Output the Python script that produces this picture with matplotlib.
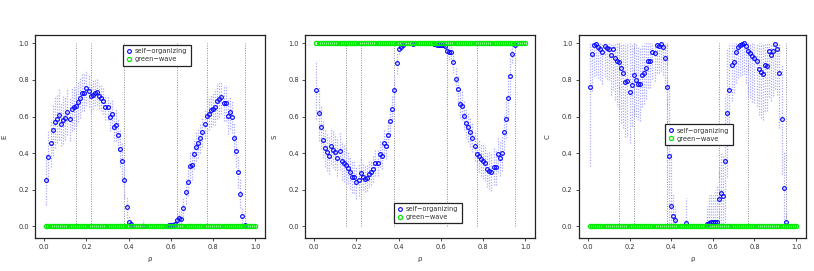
import numpy as np
import matplotlib
matplotlib.use("Agg")
import matplotlib.pyplot as plt

# rho values where self-organizing points are visible
rho_so = [round(0.01 * i, 2) for i in range(1, 43)] + [0.47] + [round(0.01 * i, 2) for i in range(57, 96)]
# green-wave rho values
rho_gw = [round(0.01 * i, 2) for i in range(1, 101)]

E_mean = [0.255, 0.38, 0.453, 0.525, 0.57, 0.587, 0.61, 0.56, 0.58, 0.59,
          0.627, 0.585, 0.64, 0.65, 0.66, 0.678, 0.70, 0.73, 0.73, 0.756,
          0.74, 0.71, 0.72, 0.73, 0.733, 0.71, 0.70, 0.685, 0.65, 0.65,
          0.60, 0.613, 0.544, 0.556, 0.50, 0.424, 0.355, 0.255, 0.105, 0.025,
          0.015, 0.005,
          0.004,
          0.005, 0.005, 0.006, 0.006, 0.01, 0.012, 0.036, 0.044, 0.042, 0.10,
          0.19, 0.245, 0.33, 0.336, 0.395, 0.435, 0.456, 0.482, 0.513, 0.56,
          0.604, 0.615, 0.633, 0.642, 0.653, 0.685, 0.696, 0.704, 0.673, 0.673,
          0.602, 0.624, 0.60, 0.482, 0.413, 0.298, 0.178, 0.055, 0.01]
E_sd = [0.14, 0.14, 0.13, 0.14, 0.14, 0.13, 0.14, 0.12, 0.13, 0.12,
        0.13, 0.12, 0.12, 0.12, 0.11, 0.11, 0.11, 0.10, 0.10, 0.10,
        0.09, 0.09, 0.08, 0.07, 0.07, 0.07, 0.07, 0.07, 0.07, 0.07,
        0.08, 0.08, 0.08, 0.09, 0.09, 0.10, 0.10, 0.10, 0.06, 0.03,
        0.02, 0.01,
        0.03,
        0.01, 0.01, 0.01, 0.02, 0.02, 0.03, 0.04, 0.05, 0.05, 0.06,
        0.07, 0.08, 0.08, 0.08, 0.08, 0.08, 0.08, 0.08, 0.08, 0.08,
        0.09, 0.09, 0.09, 0.09, 0.10, 0.10, 0.10, 0.09, 0.10, 0.10,
        0.10, 0.09, 0.09, 0.09, 0.09, 0.09, 0.08, 0.05, 0.01]

S_mean = [0.744, 0.618, 0.545, 0.473, 0.427, 0.405, 0.387, 0.44, 0.42, 0.407,
          0.375, 0.41, 0.356, 0.345, 0.336, 0.32, 0.296, 0.27, 0.27, 0.24,
          0.256, 0.29, 0.27, 0.26, 0.263, 0.287, 0.295, 0.313, 0.345, 0.345,
          0.395, 0.384, 0.455, 0.44, 0.50, 0.576, 0.64, 0.744, 0.89, 0.97,
          0.982, 0.99,
          0.997,
          0.997, 0.99, 0.99, 0.99, 0.99, 0.985, 0.96, 0.95, 0.952, 0.90,
          0.807, 0.75, 0.67, 0.66, 0.604, 0.562, 0.542, 0.516, 0.485, 0.438,
          0.396, 0.387, 0.367, 0.358, 0.347, 0.313, 0.305, 0.295, 0.327, 0.325,
          0.396, 0.373, 0.40, 0.515, 0.585, 0.70, 0.82, 0.944, 0.99]
S_sd = [0.16, 0.15, 0.12, 0.10, 0.10, 0.10, 0.10, 0.10, 0.10, 0.10,
        0.10, 0.10, 0.10, 0.10, 0.10, 0.09, 0.09, 0.09, 0.09, 0.09,
        0.09, 0.09, 0.07, 0.07, 0.07, 0.07, 0.07, 0.07, 0.07, 0.07,
        0.07, 0.07, 0.07, 0.07, 0.07, 0.07, 0.07, 0.08, 0.06, 0.03,
        0.02, 0.01,
        0.01,
        0.01, 0.01, 0.01, 0.01, 0.01, 0.02, 0.03, 0.04, 0.04, 0.06,
        0.07, 0.07, 0.08, 0.08, 0.08, 0.08, 0.08, 0.08, 0.08, 0.08,
        0.09, 0.09, 0.09, 0.10, 0.10, 0.10, 0.10, 0.10, 0.10, 0.10,
        0.10, 0.10, 0.10, 0.10, 0.10, 0.12, 0.10, 0.05, 0.01]

C_mean = [0.76, 0.942, 0.99, 0.995, 0.98, 0.97, 0.95, 0.985, 0.975, 0.967,
          0.936, 0.967, 0.918, 0.904, 0.895, 0.867, 0.835, 0.787, 0.795, 0.735,
          0.77, 0.824, 0.80, 0.78, 0.776, 0.824, 0.836, 0.864, 0.904, 0.904,
          0.955, 0.945, 0.99, 0.985, 0.998, 0.978, 0.92, 0.76, 0.382, 0.109,
          0.055, 0.033,
          0.018,
          0.013, 0.02, 0.027, 0.024, 0.027, 0.022, 0.15, 0.18, 0.164, 0.356,
          0.618, 0.744, 0.884, 0.896, 0.955, 0.982, 0.99, 0.998, 1.0, 0.984,
          0.956, 0.949, 0.93, 0.922, 0.905, 0.858, 0.844, 0.83, 0.882, 0.878,
          0.958, 0.936, 0.96, 0.998, 0.97, 0.836, 0.585, 0.21, 0.027]
C_sd = [0.43, 0.20, 0.17, 0.17, 0.17, 0.17, 0.17, 0.17, 0.17, 0.17,
        0.22, 0.22, 0.23, 0.24, 0.25, 0.30, 0.30, 0.30, 0.30, 0.28,
        0.22, 0.22, 0.20, 0.20, 0.20, 0.17, 0.17, 0.17, 0.15, 0.15,
        0.15, 0.15, 0.15, 0.15, 0.15, 0.15, 0.17, 0.40, 0.40, 0.30,
        0.12, 0.08,
        0.14,
        0.10, 0.15, 0.15, 0.15, 0.17, 0.20, 0.20, 0.22, 0.22, 0.35,
        0.35, 0.30, 0.20, 0.17, 0.17, 0.17, 0.17, 0.17, 0.17, 0.20,
        0.25, 0.25, 0.25, 0.25, 0.25, 0.25, 0.25, 0.25, 0.25, 0.25,
        0.25, 0.25, 0.25, 0.25, 0.25, 0.30, 0.30, 0.20, 0.05]

gw_E = [0.0] * len(rho_gw)
gw_S = [1.0] * len(rho_gw)
gw_C = [0.0] * len(rho_gw)

ref_lines = [0.15, 0.22, 0.38, 0.63, 0.77, 0.95]
ticks = [0.0, 0.2, 0.4, 0.6, 0.8, 1.0]
tick_labels = ["0.0", "0.2", "0.4", "0.6", "0.8", "1.0"]

panels = [
    ("E", E_mean, E_sd, gw_E, [0.043, 0.1218, 0.2826, 0.749], (0.383, 0.95)),
    ("S", S_mean, S_sd, gw_S, [0.3747, 0.1218, 0.2826, 0.749], (0.387, 0.174)),
    ("C", C_mean, C_sd, gw_C, [0.711, 0.1218, 0.279, 0.749], (0.379, 0.56)),
]

fig = plt.figure(figsize=(8.14, 2.71), dpi=100)
blue = "#0000ff"
green = "#00ee00"
ebcol = "#a8a8ff"
txtcol = "#333333"

for ylabel, mean, sd, gw, pos, legpos in panels:
    ax = fig.add_axes(pos)
    x = np.array(rho_so)
    m = np.array(mean)
    s = np.array(sd)
    lo = np.clip(m - s, 0, 1)
    hi = np.clip(m + s, 0, 1)
    ax.vlines(ref_lines, 0, 1, colors="#8a8a8a", linestyles=(0, (1, 1.5)), linewidth=0.7, zorder=1)
    ax.vlines(x, lo, hi, colors=ebcol, linestyles=(0, (1, 1.2)), linewidth=0.9, zorder=2)
    ax.plot(x, m, linestyle="none", marker="o", markersize=2.7, markerfacecolor="none",
            markeredgecolor=blue, markeredgewidth=0.8, zorder=3, label="self\u2212organizing")
    ax.plot(rho_gw, gw, linestyle="none", marker="o", markersize=3.0, markerfacecolor="none",
            markeredgecolor=green, markeredgewidth=0.9, zorder=4, label="green\u2212wave")
    ax.set_xlim(-0.044, 1.047)
    ax.set_ylim(-0.063, 1.045)
    ax.set_xticks(ticks)
    ax.set_xticklabels(tick_labels)
    ax.set_yticks(ticks)
    ax.set_yticklabels(tick_labels)
    ax.tick_params(axis="both", length=2.5, width=0.6, labelsize=4.8, colors=txtcol, pad=2)
    for sp in ax.spines.values():
        sp.set_linewidth(0.9)
        sp.set_color("#222222")
    ax.set_xlabel("\u03c1", fontsize=5, color=txtcol, labelpad=4)
    ax.set_ylabel(ylabel, fontsize=5, color=txtcol, labelpad=8)
    leg = ax.legend(loc="upper left", bbox_to_anchor=legpos, fontsize=4.8, frameon=True,
                    fancybox=False, edgecolor="#222222", framealpha=1, handlelength=0.8,
                    handletextpad=0.5, borderpad=0.5, labelspacing=0.3, borderaxespad=0)
    leg.get_frame().set_linewidth(0.9)
    for t in leg.get_texts():
        t.set_color(txtcol)

fig.savefig("out.png", dpi=100)
